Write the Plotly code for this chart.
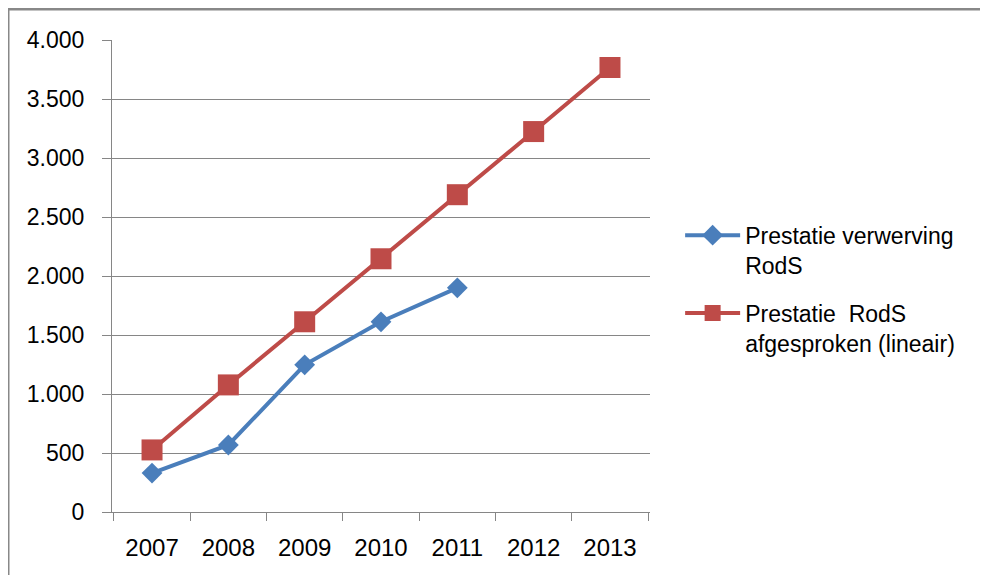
import plotly.graph_objects as go

years = ["2007", "2008", "2009", "2010", "2011", "2012", "2013"]
verwerving = [330, 568, 1247, 1612, 1900]
afgesproken = [526, 1077, 1612, 2146, 2689, 3224, 3767]

blue = "#4A7EBB"
red = "#BE4B48"
grey = "#868686"
font = "Liberation Sans"

fig = go.Figure()
fig.add_trace(go.Scatter(
    x=years[:len(verwerving)], y=verwerving,
    name="Prestatie verwerving<br>RodS", legendgroup="a",
    mode="lines+markers",
    line=dict(color=blue, width=4),
    marker=dict(symbol="diamond", size=16, color=blue),
))
fig.add_trace(go.Scatter(
    x=years, y=afgesproken,
    name="Prestatie  RodS<br>afgesproken (lineair)", legendgroup="b",
    mode="lines+markers",
    line=dict(color=red, width=4),
    marker=dict(symbol="square", size=21, color=red),
))

# page body adds an 8px margin, so the figure is a bit smaller
fig.update_layout(
    width=980, height=567,
    margin=dict(l=104, r=338, t=32, b=63),
    paper_bgcolor="white", plot_bgcolor="white",
    font=dict(family=font, size=22, color="#000000"),
    legend=dict(
        x=1.056, y=0.632, xanchor="left", yanchor="top",
        font=dict(size=23), valign="top", itemwidth=55,
        traceorder="grouped", tracegroupgap=15,
    ),
    shapes=[dict(
        type="rect", xref="paper", yref="paper",
        x0=-0.1933, x1=2, y0=-1, y1=1.0657,
        line=dict(color="#888888", width=3), layer="below",
    )],
    separators=",.",
)
fig.update_xaxes(
    type="category", showgrid=False, showline=True, linecolor=grey,
    ticks="outside", tickson="boundaries", ticklen=8, tickcolor=grey,
    tickfont=dict(size=24), ticklabelstandoff=14,
)
fig.update_yaxes(
    range=[0, 4000], dtick=500, tickformat=",",
    showgrid=True, gridcolor=grey, gridwidth=1,
    showline=True, linecolor=grey, zeroline=False,
    ticks="outside", ticklen=9, tickcolor=grey, ticklabelstandoff=13,
    tickfont=dict(size=23),
)

fig.write_html("out.html")
